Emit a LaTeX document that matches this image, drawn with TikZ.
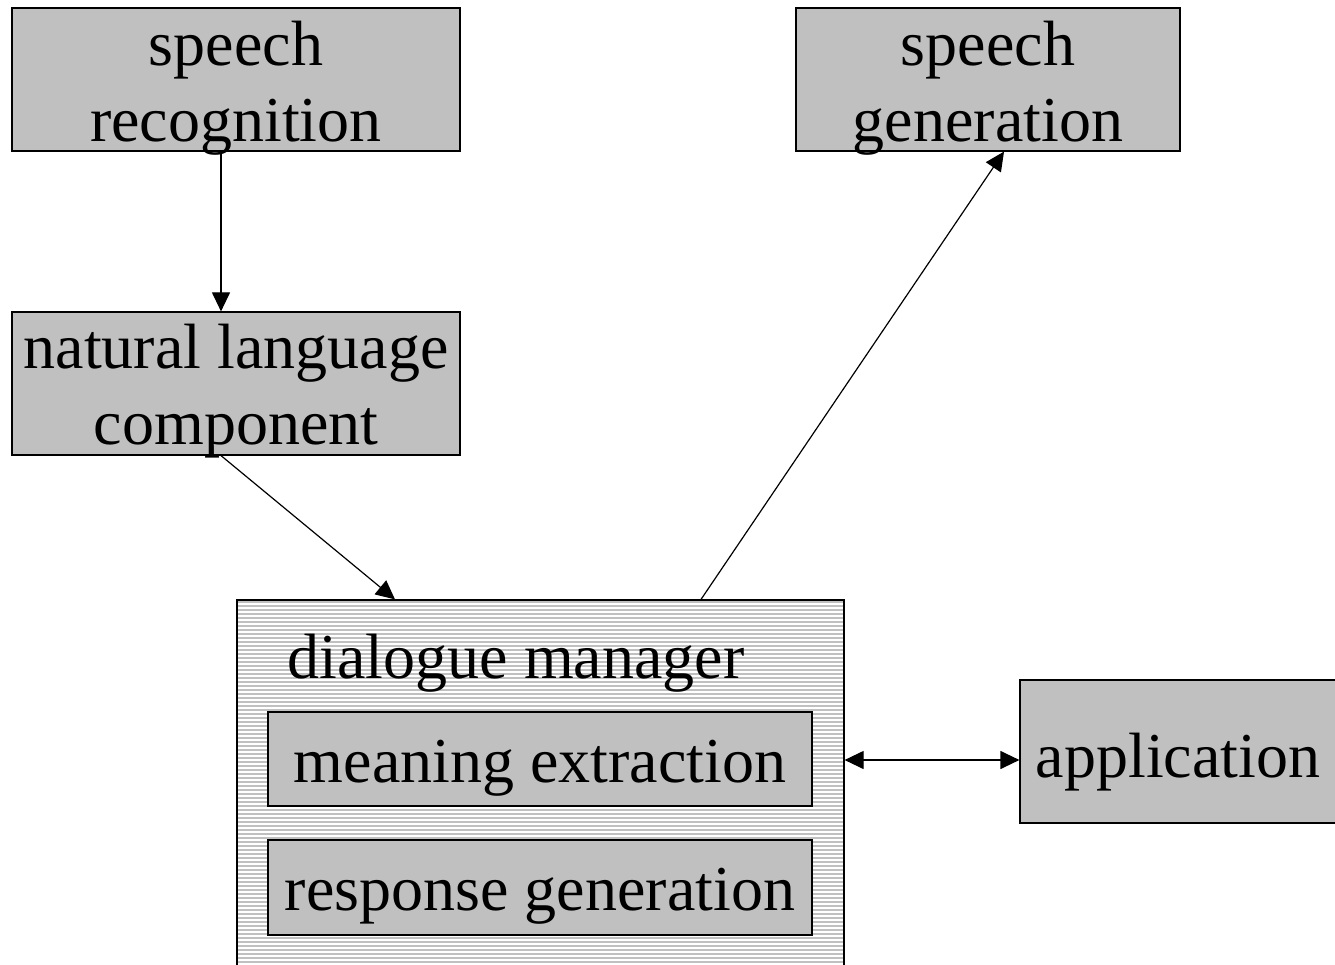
\documentclass[tikz,border=0pt]{standalone}
\usepackage{fontspec}
\setmainfont{Liberation Serif}
\usetikzlibrary{arrows.meta,calc}
\definecolor{boxgray}{HTML}{C0C0C0}
\tikzset{
  x=1pt, y=-1pt,
  block/.style={draw=black, line width=1.2pt, fill=boxgray, inner sep=0pt},
  lbl/.style={inner sep=0pt, align=center, font=\fontsize{64}{76}\selectfont},
  tip/.style={Triangle[length=19pt,width=18pt]},
  link/.style={line width=1.2pt, -{Triangle[length=19pt,width=18pt]}},
  dlink/.style={line width=1.2pt, {Triangle[length=19pt,width=18pt]}-{Triangle[length=19pt,width=18pt]}},
}
\begin{document}
\begin{tikzpicture}
\useasboundingbox (0,0) rectangle (1335,965);

% dialogue manager frame with horizontal stripes
\node[draw=black, line width=1.2pt, fill=white, inner sep=0pt,
      minimum width=607pt, minimum height=370pt,
      path picture={
        \foreach \k in {0,...,93}
          \draw[boxgray, line width=2.8pt]
            ([yshift=-\k*4pt-2pt]path picture bounding box.north west) --
            ([yshift=-\k*4pt-2pt]path picture bounding box.north east);
      }] (dm) at (540.5,785) {};
\node[lbl] (dm-t) at (516,663) {dialogue manager};

% inner components
\node[block, minimum width=544pt, minimum height=94pt] (me) at (540,759) {};
\node[lbl] (me-t) at ([yshift=-9pt]me.center) {meaning extraction};
\node[block, minimum width=544pt, minimum height=95pt] (rg) at (540,887.5) {};
\node[lbl] (rg-t) at ([yshift=-9pt]rg.center) {response generation};

% outer components
\node[block, minimum width=448pt, minimum height=143pt] (sr) at (236,79.5) {};
\node[lbl] (sr-t) at ([yshift=-9pt]sr.center) {speech\\recognition};
\node[block, minimum width=384pt, minimum height=143pt] (sg) at (988,79.5) {};
\node[lbl] (sg-t) at ([yshift=-9pt]sg.center) {speech\\generation};
\node[block, minimum width=448pt, minimum height=143pt] (nlc) at (236,383.5) {};
\node[lbl] (nlc-t) at ([yshift=-8pt]nlc.center) {natural language\\component};
\node[block, minimum width=316pt, minimum height=143pt] (app) at (1178,751.5) {};
\node[lbl] (app-t) at ([yshift=-11pt]app.center) {application};

% connectors
\draw[link] (221,0 |- sr.south) -- (221,0 |- nlc.north);
\draw[link] (221,0 |- nlc.south) -- (395,0 |- dm.north);
\draw[link] (701,0 |- dm.north) -- (1004,0 |- sg.south);
\draw[dlink] (dm.east |- 0,760) -- (app.west |- 0,760);
\end{tikzpicture}
\end{document}
